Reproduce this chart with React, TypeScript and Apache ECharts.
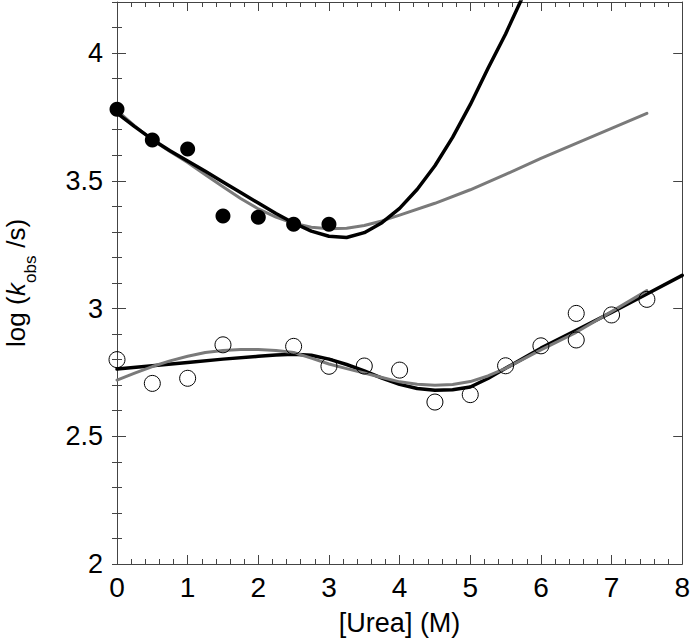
import React, { useEffect, useRef } from "react";
import * as echarts from "echarts";

// Measured data: filled circles (upper branch)
const filledX = [0, 0.5, 1, 1.5, 2, 2.5, 3];
const filledY = [3.78, 3.66, 3.625, 3.362, 3.357, 3.33, 3.33];

// Open circles (lower branch)
const openX = [0, 0.5, 1, 1.5, 2.5, 3, 3.5, 4, 4.5, 5, 5.5, 6, 6.5, 6.5, 7, 7.5];
const openY = [2.8, 2.707, 2.727, 2.858, 2.852, 2.774, 2.775, 2.759, 2.634, 2.663, 2.776, 2.854, 2.877, 2.981, 2.975, 3.036];

// Fitted curves
const upperBlackX = [0, 0.25, 0.5, 0.75, 1, 1.25, 1.5, 1.75, 2, 2.25, 2.5, 2.75, 3, 3.25, 3.5, 3.75, 4, 4.25, 4.5, 4.75, 5, 5.25, 5.5, 5.75];
const upperBlackY = [3.765, 3.712, 3.662, 3.618, 3.578, 3.537, 3.495, 3.454, 3.413, 3.372, 3.335, 3.303, 3.283, 3.278, 3.297, 3.336, 3.392, 3.467, 3.559, 3.67, 3.798, 3.94, 4.075, 4.225];

const upperGrayX = [0, 0.25, 0.5, 0.75, 1, 1.25, 1.5, 1.75, 2, 2.25, 2.5, 2.75, 3, 3.25, 3.5, 3.75, 4, 4.5, 5, 5.5, 6, 6.5, 7, 7.5];
const upperGrayY = [3.775, 3.715, 3.66, 3.615, 3.572, 3.524, 3.477, 3.431, 3.39, 3.358, 3.334, 3.318, 3.312, 3.314, 3.325, 3.343, 3.366, 3.412, 3.465, 3.525, 3.588, 3.647, 3.705, 3.764];

const lowerBlackX = [0, 0.5, 1, 1.5, 2, 2.25, 2.5, 2.75, 3, 3.25, 3.5, 3.75, 4, 4.25, 4.5, 4.75, 5, 5.25, 5.5, 5.75, 6, 6.5, 7, 7.5, 8];
const lowerBlackY = [2.763, 2.776, 2.789, 2.802, 2.813, 2.818, 2.821, 2.817, 2.802, 2.781, 2.756, 2.728, 2.703, 2.687, 2.68, 2.682, 2.693, 2.726, 2.766, 2.805, 2.845, 2.915, 2.985, 3.057, 3.13];

const lowerGrayX = [0, 0.25, 0.5, 0.75, 1, 1.25, 1.5, 1.75, 2, 2.25, 2.5, 2.75, 3, 3.25, 3.5, 3.75, 4, 4.25, 4.5, 4.75, 5, 5.25, 5.5, 5.75, 6, 6.5, 7, 7.5];
const lowerGrayY = [2.72, 2.747, 2.773, 2.795, 2.813, 2.828, 2.836, 2.84, 2.84, 2.836, 2.828, 2.806, 2.783, 2.765, 2.748, 2.73, 2.713, 2.704, 2.7, 2.703, 2.714, 2.736, 2.766, 2.802, 2.838, 2.907, 2.988, 3.07];

const xTicks = ["0", "1", "2", "3", "4", "5", "6", "7", "8"];

const zip = (xs: number[], ys: number[]) => xs.map((x, i) => [x, ys[i]]);

const FONT = '"Liberation Sans", Arial, Helvetica, sans-serif';
const AXIS_COLOR = "#444";

export default function App() {
  const ref = useRef<HTMLDivElement>(null);

  useEffect(() => {
    if (!ref.current) return;
    const chart = echarts.init(ref.current, undefined, { renderer: "svg" });

    const yMajor = (pos: "left" | "right", labels: boolean) => ({
      type: "value",
      position: pos,
      min: 2,
      max: 4.2,
      interval: 0.5,
      axisLine: { show: true, onZero: false, lineStyle: { color: AXIS_COLOR, width: 1 } },
      axisTick: { show: true, inside: true, length: 9, lineStyle: { color: AXIS_COLOR } },
      axisLabel: labels
        ? {
            show: true,
            margin: 14,
            color: "#000",
            fontSize: 27,
            fontFamily: FONT,
            formatter: (v: number) => (Math.abs(v - 4.2) < 1e-6 ? "" : String(v)),
          }
        : { show: false },
      splitLine: { show: false },
    });
    const yMinor = (pos: "left" | "right") => ({
      type: "value",
      position: pos,
      min: 2,
      max: 4.2,
      interval: 0.1,
      axisLine: { show: false },
      axisTick: { show: true, inside: true, length: 5, lineStyle: { color: AXIS_COLOR } },
      axisLabel: { show: false },
      splitLine: { show: false },
    });

    const xAxisBase = (pos: "bottom" | "top", labels: boolean) => ({
      type: "value",
      position: pos,
      min: 0,
      max: 8,
      interval: 1,
      axisLine: { show: true, onZero: false, lineStyle: { color: AXIS_COLOR, width: 1 } },
      axisTick: { show: true, inside: true, length: 9, lineStyle: { color: AXIS_COLOR } },
      minorTick: { show: true, splitNumber: 5, length: 5, lineStyle: { color: AXIS_COLOR } },
      axisLabel: labels
        ? {
            show: true,
            margin: 9,
            color: "#000",
            fontSize: 28,
            fontFamily: FONT,
            formatter: (v: number) => xTicks[Math.round(v)] ?? "",
          }
        : { show: false },
      splitLine: { show: false },
      minorSplitLine: { show: false },
      ...(labels
        ? {
            name: "[Urea] (M)",
            nameLocation: "middle",
            nameGap: 45,
            nameTextStyle: { color: "#000", fontSize: 27, fontFamily: FONT },
          }
        : {}),
    });

    const lineStyle = (color: string, width: number) => ({
      type: "line",
      smooth: false,
      showSymbol: false,
      symbol: "none",
      clip: true,
      lineStyle: { color, width, join: "round", cap: "round" },
      xAxisIndex: 0,
      yAxisIndex: 0,
      silent: true,
    });

    chart.setOption({
      animation: false,
      backgroundColor: "#fff",
      grid: { left: 117, right: 8, top: 2, bottom: 78, containLabel: false },
      xAxis: [xAxisBase("bottom", true), xAxisBase("top", false)],
      yAxis: [yMajor("left", true), yMinor("left"), yMajor("right", false), yMinor("right")],
      graphic: [
        {
          type: "group",
          x: 16,
          y: 347,
          rotation: Math.PI / 2,
          children: [
            { type: "text", x: 0, y: 0, style: { text: "log (", fontSize: 26, fontFamily: FONT, fill: "#000", verticalAlign: "middle", align: "left" } },
            { type: "text", x: 51, y: 0, style: { text: "k", fontSize: 26, fontStyle: "italic", fontFamily: FONT, fill: "#000", verticalAlign: "middle", align: "left" } },
            { type: "text", x: 64, y: 14, style: { text: "obs", fontSize: 17, fontFamily: FONT, fill: "#000", verticalAlign: "middle", align: "left" } },
            { type: "text", x: 92, y: 0, style: { text: " /s)", fontSize: 26, fontFamily: FONT, fill: "#000", verticalAlign: "middle", align: "left" } },
          ],
        },
      ],
      series: [
        { ...lineStyle("#7a7a7a", 3), data: zip(upperGrayX, upperGrayY), z: 2 },
        { ...lineStyle("#000", 3.5), data: zip(upperBlackX, upperBlackY), z: 3 },
        { ...lineStyle("#000", 3.5), data: zip(lowerBlackX, lowerBlackY), z: 2 },
        { ...lineStyle("#7a7a7a", 3), data: zip(lowerGrayX, lowerGrayY), z: 3 },
        {
          type: "scatter",
          data: zip(filledX, filledY),
          symbol: "circle",
          symbolSize: 15,
          itemStyle: { color: "#000", opacity: 1 },
          z: 4,
        },
        {
          type: "scatter",
          data: zip(openX, openY),
          symbol: "circle",
          symbolSize: 16,
          itemStyle: { color: "rgba(0,0,0,0)", borderColor: "#000", borderWidth: 1, opacity: 1 },
          z: 4,
        },
      ],
    });

    return () => chart.dispose();
  }, []);

  return <div ref={ref} style={{ position: "absolute", left: 0, top: 0, width: 693, height: 642 }} />;
}
